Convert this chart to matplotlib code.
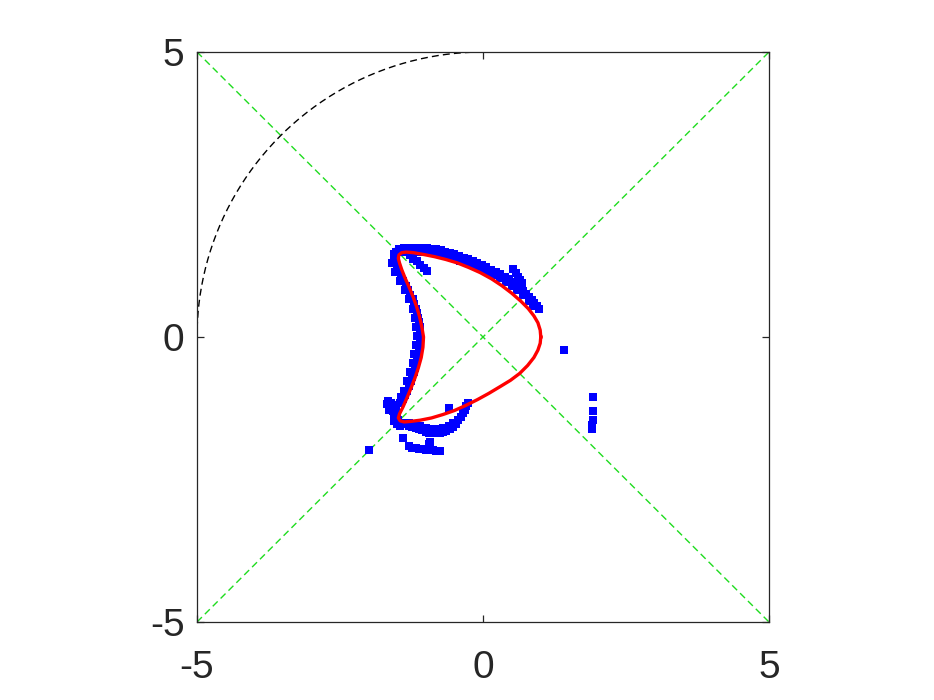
import matplotlib
matplotlib.use("Agg")
import matplotlib.pyplot as plt
import numpy as np

plt.rcParams['font.family'] = ['Liberation Sans', 'DejaVu Sans']
plt.rcParams['axes.unicode_minus'] = False

# ---- data ----
tick_values = [-5, 0, 5]
tick_labels = ['-5', '0', '5']
axis_limits = (-5, 5)

# diagonals (green dashed)
diag1_x = [-5, 5]
diag1_y = [-5, 5]
diag2_x = [-5, 5]
diag2_y = [5, -5]

# quarter circle arc (black dashed)
arc_radius = 5.0
arc_start_deg = 90.0
arc_end_deg = 180.0

# red fitted curve
red_x = [1.01, 1.00, 0.96, 0.89, 0.79, 0.66, 0.50, 0.33, 0.15, -0.05, -0.25, -0.45,
         -0.65, -0.85, -1.05, -1.22, -1.34, -1.42, -1.47, -1.48, -1.46, -1.42, -1.36,
         -1.29, -1.22, -1.16, -1.11, -1.07, -1.04,
         -1.05, -1.08, -1.13, -1.19, -1.26, -1.33, -1.40, -1.46, -1.48, -1.45, -1.38,
         -1.26, -1.10, -0.90, -0.70, -0.50, -0.30, -0.10, 0.10, 0.30, 0.48, 0.64, 0.78,
         0.89, 0.96, 1.00, 1.01]
red_y = [0.00, 0.12, 0.25, 0.37, 0.50, 0.63, 0.77, 0.90, 1.02, 1.13, 1.22, 1.30,
         1.36, 1.41, 1.45, 1.48, 1.49, 1.48, 1.44, 1.38, 1.30, 1.18, 1.03,
         0.87, 0.70, 0.53, 0.36, 0.18, 0.00,
         -0.18, -0.36, -0.54, -0.72, -0.90, -1.07, -1.23, -1.35, -1.42, -1.47, -1.49,
         -1.48, -1.46, -1.42, -1.36, -1.29, -1.20, -1.10, -0.99, -0.87, -0.76, -0.64, -0.50,
         -0.36, -0.23, -0.11, 0.00]

# blue measured points
top_band_x = [-1.52, -1.46, -1.38, -1.30, -1.22, -1.14, -1.06, -0.98, -0.90, -0.82, -0.74,
              -0.66, -0.58, -0.50, -0.42, -0.34, -0.26, -0.18, -0.10, -0.02, 0.06, 0.14,
              0.22, 0.30, 0.38, 0.45, 0.52, 0.58, 0.64, 0.70, 0.75, 0.80, 0.85, 0.90,
              0.94, 0.98]
top_band_y = [1.50, 1.54, 1.56, 1.57, 1.57, 1.57, 1.57, 1.56, 1.55, 1.54, 1.52,
              1.50, 1.48, 1.45, 1.42, 1.39, 1.36, 1.33, 1.30, 1.26, 1.22, 1.18,
              1.14, 1.10, 1.05, 1.01, 0.96, 0.91, 0.86, 0.80, 0.75, 0.70, 0.65, 0.59,
              0.54, 0.50]
top_inner_x = [-1.40, -1.30, -1.20, -1.10, -1.00, -0.90, -0.80, -0.70, -0.60, -0.50,
               -0.40, -0.30, -0.20, -0.10, 0.00, 0.10, 0.20, 0.30, 0.40, 0.50, 0.60,
               0.70, 0.80, 0.88]
top_inner_y = [1.49, 1.50, 1.50, 1.50, 1.49, 1.48, 1.47, 1.44, 1.42, 1.38,
               1.34, 1.31, 1.27, 1.23, 1.18, 1.13, 1.08, 1.03, 0.97, 0.90, 0.82,
               0.73, 0.63, 0.54]
streak_x = [0.53, 0.57, 0.61, 0.65, 0.68, -1.28, -1.22, -1.16, -1.10, -1.03, -0.98]
streak_y = [1.20, 1.13, 1.06, 1.00, 0.95, 1.43, 1.37, 1.33, 1.27, 1.21, 1.16]
left_band_x = [-1.55, -1.55, -1.53, -1.50, -1.47, -1.43, -1.39, -1.35, -1.31, -1.27,
               -1.23, -1.20, -1.17, -1.15, -1.13, -1.12, -1.11, -1.10, -1.10, -1.11,
               -1.11, -1.12, -1.14, -1.15, -1.17, -1.19, -1.21, -1.24, -1.26, -1.29,
               -1.32, -1.36, -1.40, -1.45]
left_band_y = [1.45, 1.38, 1.30, 1.22, 1.14, 1.06, 0.98, 0.90, 0.82, 0.74,
               0.66, 0.58, 0.50, 0.42, 0.34, 0.26, 0.18, 0.10, 0.02, -0.06,
               -0.14, -0.22, -0.30, -0.38, -0.46, -0.54, -0.62, -0.70, -0.78, -0.86,
               -0.94, -1.02, -1.09, -1.15]
left_outer_x = [-1.59, -1.53, -1.45, -1.37, -1.29, -1.23, -1.19, -1.17, -1.16, -1.17,
                -1.20, -1.23, -1.27, -1.32, -1.38, -1.44]
left_outer_y = [1.30, 1.14, 0.98, 0.82, 0.66, 0.50, 0.34, 0.18, 0.02, -0.14,
                -0.30, -0.46, -0.62, -0.78, -0.94, -1.06]
bottom_x = [-1.66, -1.60, -1.55, -1.62, -1.58, -1.52, -1.50, -1.56, -1.48, -1.42, -1.50,
            -1.68, -1.64, -1.56, -1.45,
            -1.36, -1.30, -1.24, -1.18, -1.12, -1.06, -1.00, -0.94, -0.88, -0.82, -0.76,
            -0.70, -0.64, -0.58, -0.52, -0.47, -0.43, -0.39, -0.35, -0.32, -0.29, -0.27,
            -1.30, -1.20, -1.10, -1.00, -0.90, -0.80, -0.70, -0.60, -0.52,
            -0.59, -1.39, -2.00,
            -1.30, -1.24, -1.18, -1.12, -1.06, -1.00, -0.94, -0.88, -0.82, -0.76,
            -0.95, -0.93]
bottom_y = [-1.12, -1.15, -1.20, -1.22, -1.30, -1.28, -1.36, -1.40, -1.45, -1.50, -1.52,
            -1.18, -1.28, -1.48, -1.56,
            -1.52, -1.56, -1.58, -1.60, -1.62, -1.64, -1.66, -1.68, -1.69, -1.69, -1.68,
            -1.67, -1.65, -1.62, -1.58, -1.52, -1.46, -1.40, -1.34, -1.28, -1.21, -1.15,
            -1.50, -1.54, -1.56, -1.59, -1.62, -1.62, -1.60, -1.56, -1.50,
            -1.24, -1.77, -1.98,
            -1.92, -1.94, -1.95, -1.96, -1.97, -1.98, -1.98, -1.99, -2.00, -2.00,
            -1.88, -1.84]
right_x = [1.42, 1.92, 1.93, 1.92, 1.90, 1.90]
right_y = [-0.23, -1.05, -1.30, -1.45, -1.55, -1.62]

# ---- plot ----
fig = plt.figure(figsize=(9.34, 7.0), dpi=100)
ax = fig.add_axes([197/934, 78/700, 572/934, 570/700])

dark = '#262626'
green = '#1fdc1f'

ax.plot(diag1_x, diag1_y, color=green, lw=1.0, dashes=(5, 3), zorder=1)
ax.plot(diag2_x, diag2_y, color=green, lw=1.0, dashes=(5, 3), zorder=1)

th = np.deg2rad(np.linspace(arc_start_deg, arc_end_deg, 200))
ax.plot(arc_radius*np.cos(th), arc_radius*np.sin(th), color='black', lw=1.0,
        dashes=(5, 3), zorder=1)

blue_x = top_band_x + top_inner_x + streak_x + left_band_x + left_outer_x + bottom_x + right_x
blue_y = top_band_y + top_inner_y + streak_y + left_band_y + left_outer_y + bottom_y + right_y
ax.plot(blue_x, blue_y, linestyle='none', marker='s', markersize=5.5,
        markerfacecolor='#0000ff', markeredgewidth=0, zorder=2)

ax.plot(red_x, red_y, color='#ff0000', lw=2.4, solid_joinstyle='round', zorder=3)

ax.set_xlim(*axis_limits)
ax.set_ylim(*axis_limits)
ax.set_xticks(tick_values)
ax.set_xticklabels(tick_labels)
ax.set_yticks(tick_values)
ax.set_yticklabels(tick_labels)

for sp in ax.spines.values():
    sp.set_color(dark)
    sp.set_linewidth(0.9)

ax.tick_params(axis='both', direction='in', length=5, width=0.9, colors=dark,
               labelsize=28, top=True, right=True)
ax.tick_params(axis='x', pad=20)
ax.tick_params(axis='y', pad=9)

fig.savefig('out.png', dpi=100)
